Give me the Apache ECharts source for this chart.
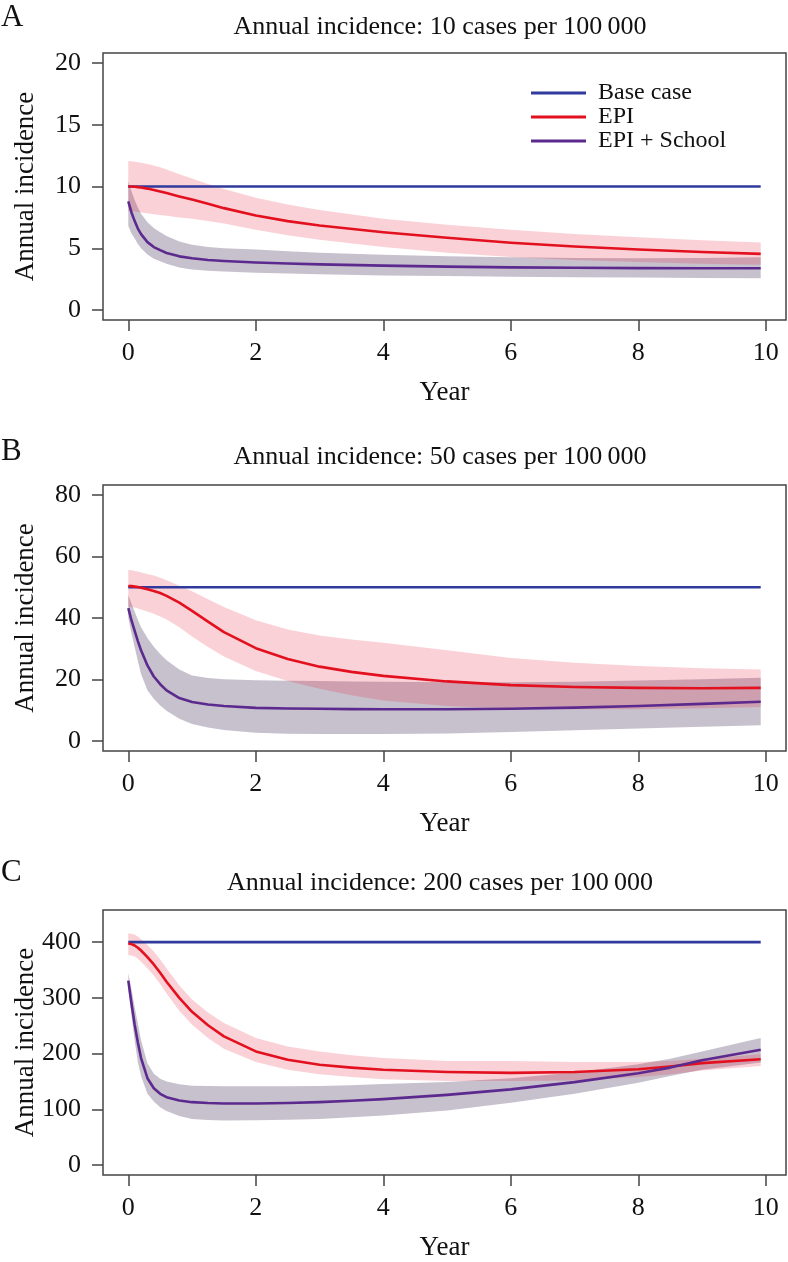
<!DOCTYPE html>
<html><head><meta charset="utf-8">
<script src="https://cdn.jsdelivr.net/npm/echarts@6/dist/echarts.min.js"></script>
<style>html,body{margin:0;padding:0;background:#fff}#c{width:788px;height:1262px}</style>
</head><body><div id="c"></div>
<script>
// ---------- DATA ----------
const xTicks = [0, 2, 4, 6, 8, 10];
const yTicksA = [0, 5, 10, 15, 20];
const yTicksB = [0, 20, 40, 60, 80];
const yTicksC = [0, 100, 200, 300, 400];
const yLimA = [0, 20], yLimB = [0, 80], yLimC = [0, 440];
const xLim = [0, 9.92];

const titles = ['Annual incidence: 10 cases per 100\u2009000', 'Annual incidence: 50 cases per 100\u2009000', 'Annual incidence: 200 cases per 100\u2009000'];
const letters = ['A', 'B', 'C'];
const seriesNames = ['Base case', 'EPI', 'EPI + School'];

// Panel A
const xA      = [0, 0.05, 0.1, 0.15, 0.2, 0.3, 0.4, 0.5, 0.6, 0.8, 1, 1.25, 1.5, 2, 2.5, 3, 4, 5, 6, 7, 8, 9, 9.92];
const baseA   = 10;
const epiA    = [10.0, 10.0, 9.98, 9.95, 9.92, 9.83, 9.72, 9.6, 9.47, 9.2, 8.95, 8.6, 8.25, 7.65, 7.2, 6.85, 6.3, 5.85, 5.45, 5.15, 4.9, 4.7, 4.55];
const epiHiA  = [12.05, 12.05, 12.0, 11.97, 11.93, 11.83, 11.7, 11.55, 11.38, 11.0, 10.65, 10.2, 9.8, 9.1, 8.55, 8.1, 7.4, 6.9, 6.5, 6.15, 5.9, 5.65, 5.47];
const epiLoA  = [8.0, 8.0, 7.97, 7.93, 7.9, 7.83, 7.76, 7.7, 7.63, 7.5, 7.4, 7.2, 7.0, 6.5, 6.05, 5.7, 5.1, 4.65, 4.3, 4.05, 3.9, 3.75, 3.66];
const schA    = [8.8, 7.9, 7.2, 6.6, 6.15, 5.5, 5.1, 4.85, 4.62, 4.35, 4.2, 4.05, 3.97, 3.85, 3.77, 3.7, 3.6, 3.52, 3.46, 3.43, 3.4, 3.39, 3.39];
const schHiA  = [10.4, 9.6, 8.9, 8.3, 7.8, 7.1, 6.65, 6.3, 6.0, 5.55, 5.28, 5.1, 5.0, 4.9, 4.77, 4.65, 4.47, 4.35, 4.27, 4.22, 4.2, 4.22, 4.28];
const schLoA  = [6.8, 6.2, 5.8, 5.35, 5.0, 4.5, 4.15, 3.95, 3.75, 3.45, 3.28, 3.18, 3.12, 3.03, 2.96, 2.9, 2.8, 2.75, 2.7, 2.66, 2.63, 2.6, 2.58];

// Panel B
const xB      = [0, 0.05, 0.1, 0.15, 0.2, 0.3, 0.4, 0.5, 0.6, 0.8, 1, 1.25, 1.5, 2, 2.5, 3, 3.5, 4, 5, 6, 7, 8, 9, 9.92];
const baseB   = 50;
const epiB    = [50.4, 50.35, 50.2, 50.05, 49.85, 49.35, 48.8, 48.1, 47.2, 45.0, 42.3, 38.8, 35.4, 30.2, 26.7, 24.2, 22.5, 21.2, 19.4, 18.2, 17.6, 17.3, 17.2, 17.3];
const epiHiB  = [55.6, 55.5, 55.3, 55.1, 54.8, 54.3, 53.8, 53.1, 52.3, 50.5, 48.7, 46.1, 43.6, 39.3, 36.3, 34.3, 33.0, 32.0, 29.5, 27.0, 25.5, 24.4, 23.7, 23.3];
const epiLoB  = [43.7, 43.6, 43.4, 43.1, 42.8, 42.1, 41.4, 40.5, 39.5, 37.0, 34.0, 30.6, 27.5, 22.8, 19.5, 17.0, 14.9, 13.2, 11.4, 10.7, 10.4, 10.4, 10.7, 11.1];
const schB    = [43.2, 39.2, 35.8, 32.5, 29.5, 24.6, 21.0, 18.5, 16.5, 14.0, 12.7, 11.9, 11.4, 10.8, 10.6, 10.5, 10.4, 10.35, 10.35, 10.5, 10.9, 11.4, 12.1, 12.8];
const schHiB  = [47.5, 44.7, 42.0, 39.4, 37.0, 33.5, 30.7, 28.3, 26.3, 23.3, 21.3, 20.5, 20.1, 19.8, 19.6, 19.5, 19.4, 19.3, 19.1, 19.1, 19.3, 19.7, 20.1, 20.6];
const schLoB  = [40.0, 35.0, 30.5, 26.0, 21.8, 16.5, 13.8, 11.6, 9.9, 7.3, 5.6, 4.4, 3.6, 2.7, 2.4, 2.3, 2.3, 2.3, 2.5, 3.0, 3.5, 4.1, 4.7, 5.2];

// Panel C
const xC      = [0, 0.05, 0.1, 0.15, 0.2, 0.3, 0.4, 0.5, 0.6, 0.8, 1, 1.25, 1.5, 2, 2.5, 3, 3.5, 4, 5, 6, 7, 8, 8.5, 9, 9.92];
const baseC   = 400;
const epiC    = [397.6, 396.5, 394, 390, 385, 373, 360, 345, 329, 300, 275, 251, 231, 204, 189, 180, 175, 171, 167, 165.5, 167, 172, 177, 183, 190];
const epiHiC  = [415.5, 415, 413, 410, 405, 395, 383, 369, 353, 322, 297, 274, 255, 228, 213, 204, 197, 192, 187, 187, 185, 185, 187, 191, 199];
const epiLoC  = [377, 376, 374, 370, 365, 353, 340, 325, 308, 277, 252, 228, 209, 185, 171, 163, 158, 154, 151, 151, 152, 158, 163, 170, 178];
const schC    = [331, 290, 252, 220, 192, 156, 138, 128, 122, 116, 113, 111.5, 110.7, 110.7, 111.5, 113, 115.5, 118.5, 126, 136, 149, 165, 175, 188, 207];
const schHiC  = [344, 315, 283, 254, 224, 183, 164, 155, 150, 145, 142.5, 142, 141.5, 141.5, 141.5, 142, 143.5, 145.5, 149, 156, 166, 181, 191, 204, 228];
const schLoC  = [316, 268, 223, 185, 160, 128, 114, 104, 97, 88, 83, 81, 80, 80.4, 81.5, 83, 86, 89, 98, 112, 128, 148, 160, 171, 184];

// ---------- STYLE ----------
const FONT = 'Liberation Serif';
const C_BASE = '#2f3a9c', C_EPI = '#e3101f', C_SCH = '#5c2a8e';
const C_EPI_BAND = 'rgba(232,40,60,0.21)', C_SCH_BAND = 'rgba(70,45,90,0.30)';
const grids = [
  {left: 103, top: 53, right: 2, height: 267},
  {left: 103, top: 485, right: 2, height: 266},
  {left: 103, top: 910, right: 2, height: 266}
];
const titleY = [27, 457, 883], letterY = [18, 452, 873];

const panels = [
  {x: xA, base: baseA, epi: epiA, epiHi: epiHiA, epiLo: epiLoA, sch: schA, schHi: schHiA, schLo: schLoA, yt: yTicksA, ylim: yLimA},
  {x: xB, base: baseB, epi: epiB, epiHi: epiHiB, epiLo: epiLoB, sch: schB, schHi: schHiB, schLo: schLoB, yt: yTicksB, ylim: yLimB},
  {x: xC, base: baseC, epi: epiC, epiHi: epiHiC, epiLo: epiLoC, sch: schC, schHi: schHiC, schLo: schLoC, yt: yTicksC, ylim: yLimC}
];

function pad(lim) { const d = (lim[1] - lim[0]) * 0.04; return [lim[0] - d, lim[1] + d]; }
const pair = (xs, ys) => xs.map((x, i) => [x, ys[i]]);

function band(i, xs, lo, hi, color) {
  return {
    type: 'custom', xAxisIndex: i, yAxisIndex: i, silent: true, animation: false,
    data: xs.map((x, k) => [x, lo[k], hi[k]]),
    encode: {x: 0, y: [1, 2]},
    renderItem: function (params, api) {
      if (params.dataIndex !== 0) return null;
      const pts = [];
      for (let k = 0; k < xs.length; k++) pts.push(api.coord([xs[k], hi[k]]));
      for (let k = xs.length - 1; k >= 0; k--) pts.push(api.coord([xs[k], lo[k]]));
      return {type: 'polygon', shape: {points: pts}, style: {fill: color, stroke: null}};
    }
  };
}

const xAxes = [], yAxes = [], series = [], graphics = [];
panels.forEach((p, i) => {
  const xr = pad(xLim), yr = pad(p.ylim);
  xAxes.push({
    type: 'value', gridIndex: i, min: xr[0], max: xr[1],
    name: 'Year', nameLocation: 'middle', nameGap: 59, nameMoveOverlap: false,
    nameTextStyle: {fontFamily: FONT, fontSize: 27, color: '#111'},
    axisLine: {show: false, onZero: false}, splitLine: {show: false},
    axisTick: {show: true, inside: false, length: 11, customValues: xTicks, lineStyle: {color: '#444', width: 1.5}},
    axisLabel: {customValues: xTicks, margin: 20, fontFamily: FONT, fontSize: 26, color: '#111'}
  });
  yAxes.push({
    type: 'value', gridIndex: i, min: yr[0], max: yr[1],
    name: 'Annual incidence', nameLocation: 'middle', nameGap: 64, nameMoveOverlap: false,
    nameTextStyle: {fontFamily: FONT, fontSize: 27, color: '#111'},
    axisLine: {show: false, onZero: false}, splitLine: {show: false},
    axisTick: {show: true, inside: false, length: 11, customValues: p.yt, lineStyle: {color: '#444', width: 1.5}},
    axisLabel: {customValues: p.yt, margin: 22, fontFamily: FONT, fontSize: 26, color: '#111'}
  });
  const common = {xAxisIndex: i, yAxisIndex: i, showSymbol: false, symbol: 'none', silent: true, animation: false, smooth: false};
  series.push(band(i, p.x, p.schLo, p.schHi, C_SCH_BAND));
  series.push(band(i, p.x, p.epiLo, p.epiHi, C_EPI_BAND));
  series.push(Object.assign({type: 'line', name: seriesNames[0], data: [[xLim[0], p.base], [xLim[1], p.base]],
    color: C_BASE, lineStyle: {color: C_BASE, width: 2.6}}, common));
  series.push(Object.assign({type: 'line', name: seriesNames[1], data: pair(p.x, p.epi),
    color: C_EPI, lineStyle: {color: C_EPI, width: 2.6, join: 'round'}}, common));
  series.push(Object.assign({type: 'line', name: seriesNames[2], data: pair(p.x, p.sch),
    color: C_SCH, lineStyle: {color: C_SCH, width: 2.6, join: 'round'}}, common));
  graphics.push({type: 'text', x: 440, y: titleY[i], style: {text: titles[i], fontFamily: FONT, fontSize: 26, fill: '#111', textAlign: 'center', textVerticalAlign: 'middle'}});
  graphics.push({type: 'text', x: 1, y: letterY[i], style: {text: letters[i], fontFamily: FONT, fontSize: 31, fill: '#111', textAlign: 'left', textVerticalAlign: 'middle'}});
});

const chart = echarts.init(document.getElementById('c'), null, {renderer: 'canvas'});
chart.setOption({
  backgroundColor: '#ffffff',
  animation: false,
  grid: grids.map(g => Object.assign({show: true, borderColor: '#444', borderWidth: 1.5, backgroundColor: 'transparent', containLabel: false}, g)),
  xAxis: xAxes,
  yAxis: yAxes,
  legend: {
    data: seriesNames, orient: 'vertical', left: 526, top: 76, itemGap: 0,
    icon: 'rect', itemWidth: 55, itemHeight: 3, selectedMode: false,
    textStyle: {fontFamily: FONT, fontSize: 24, color: '#111', lineHeight: 23, padding: [0, 0, 0, 7]}
  },
  graphic: graphics,
  series: series
});
</script>
</body></html>
